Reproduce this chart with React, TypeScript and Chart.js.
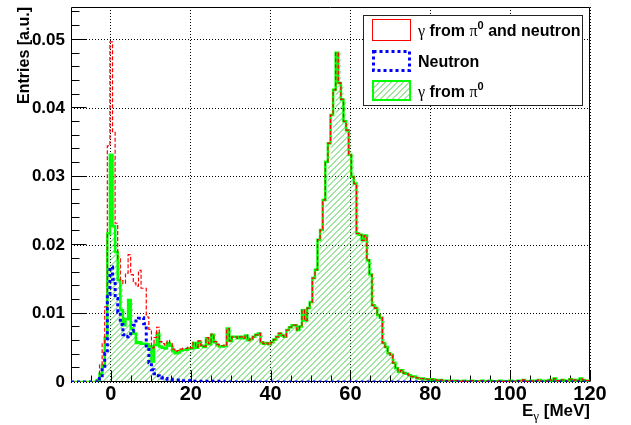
import React, { useEffect, useRef } from "react";
import { Chart, registerables } from "chart.js";

Chart.register(...registerables);

// ---- histogram binning / axis ranges ----
const X_MIN = -10;
const X_MAX = 120;
const BIN_WIDTH = 0.65; // 200 bins
const Y_MAX = 0.0548;

const xTickValues = [0, 20, 40, 60, 80, 100, 120];
const xTickLabels = ["0", "20", "40", "60", "80", "100", "120"];
const yTickValues = [0, 0.01, 0.02, 0.03, 0.04, 0.05];
const yTickLabels = ["0", "0.01", "0.02", "0.03", "0.04", "0.05"];
const X_MINOR_STEP = 5;
const Y_MINOR_STEP = 0.002;

const xAxisTitle = { main: "E", sub: "γ", unit: " [MeV]" };
const yAxisTitle = "Entries [a.u.]";
const legendNames = ["γ from π0 and neutron", "Neutron", "γ from π0"];

// ---- series: γ from π0 and neutron (red) ----
const totalValues = [
  0, 0, 0, 0, 0, 0, 0, 0, 0, 0,
  0, 0.0005, 0.0025, 0.0057, 0.011, 0.0345, 0.0497, 0.0366, 0.0232, 0.018,
  0.0148, 0.0144, 0.0159, 0.0186, 0.0157, 0.0145, 0.014, 0.0163, 0.0137, 0.0137,
  0.0095, 0.0077, 0.005, 0.0065, 0.008, 0.0059, 0.0056, 0.0054, 0.0061, 0.0057,
  0.0048, 0.0045, 0.0046, 0.0048, 0.0049, 0.0049, 0.0051, 0.005, 0.0058, 0.0051,
  0.006, 0.0054, 0.0052, 0.0065, 0.0056, 0.007, 0.0059, 0.0055, 0.0053, 0.0053,
  0.0054, 0.0078, 0.006, 0.0066, 0.0066, 0.0064, 0.0066, 0.0064, 0.0068, 0.0061,
  0.0063, 0.0066, 0.0069, 0.0071, 0.0058, 0.0056, 0.0057, 0.0055, 0.0058, 0.0062,
  0.0066, 0.0071, 0.0068, 0.0066, 0.0076, 0.008, 0.0083, 0.0083, 0.0076, 0.0081,
  0.0105, 0.009, 0.0108, 0.0117, 0.0152, 0.0164, 0.0208, 0.0222, 0.0266, 0.0322,
  0.0349, 0.039, 0.0427, 0.0481, 0.0437, 0.0413, 0.0381, 0.0368, 0.0332, 0.03,
  0.029, 0.0217, 0.0215, 0.0207, 0.0214, 0.0178, 0.0157, 0.0112, 0.0108, 0.0098,
  0.0094, 0.0057, 0.0051, 0.0042, 0.004, 0.0028, 0.002, 0.0015, 0.0017, 0.0013,
  0.0012, 0.001, 0.0008, 0.0008, 0.0006, 0.0005, 0.0005, 0.0004, 0.0004, 0.0003,
  0.0004, 0.0003, 0.0002, 0.0003, 0.0002, 0.0002, 0.0001, 0.0002, 0.0001, 0.0002,
  0.0001, 0.0001, 0.0002, 0.0001, 0.0001, 0.0002, 0.0001, 0.0001, 0.0001, 0.0002,
  0.0001, 0.0001, 0.0002, 0.0001, 0.0001, 0.0001, 0.0002, 0.0001, 0.0001, 0.0001,
  0.0002, 0.0001, 0.0001, 0.0002, 0.0001, 0.0003, 0.0001, 0.0001, 0.0002, 0.0001,
  0.0002, 0.0003, 0.0001, 0.0002, 0.0001, 0.0003, 0.0002, 0.0005, 0.0002, 0.0001,
  0.0003, 0.0002, 0.0001, 0.0004, 0.0002, 0.0003, 0.0002, 0.0005, 0.0003, 0.0002,
];

// ---- series: Neutron (blue) ----
const neutronValues = [
  0, 0, 0, 0, 0, 0, 0, 0, 0, 0,
  0, 0, 0.0005, 0.0018, 0.0042, 0.0128, 0.0168, 0.015, 0.0122, 0.0102,
  0.0084, 0.0069, 0.0066, 0.0067, 0.0074, 0.0083, 0.0089, 0.0093, 0.0094, 0.0085,
  0.005, 0.0028, 0.0018, 0.0012, 0.0009, 0.0007, 0.0006, 0.0005, 0.0004, 0.0004,
  0.0003, 0.0003, 0.0003, 0.0002, 0.0002, 0.0002, 0.0002, 0.0001, 0.0001, 0.0001,
  0.0001, 0.0001, 0.0001, 0.0001, 0.0001, 0.0001, 0.0001, 0.0001, 0.0001, 0.0001,
  0, 0, 0, 0, 0, 0, 0, 0, 0, 0,
  0, 0, 0, 0, 0, 0, 0, 0, 0, 0,
  0, 0, 0, 0, 0, 0, 0, 0, 0, 0,
  0, 0, 0, 0, 0, 0, 0, 0, 0, 0,
  0, 0, 0, 0, 0, 0, 0, 0, 0, 0,
  0, 0, 0, 0, 0, 0, 0, 0, 0, 0,
  0, 0, 0, 0, 0, 0, 0, 0, 0, 0,
  0, 0, 0, 0, 0, 0, 0, 0, 0, 0,
  0, 0, 0, 0, 0, 0, 0, 0, 0, 0,
  0, 0, 0, 0, 0, 0, 0, 0, 0, 0,
  0, 0, 0, 0, 0, 0, 0, 0, 0, 0,
  0, 0, 0, 0, 0, 0, 0, 0, 0, 0,
  0, 0, 0, 0, 0, 0, 0, 0, 0, 0,
  0, 0, 0, 0, 0, 0, 0, 0, 0, 0,
];

// ---- series: γ from π0 (green, hatched) ----
const pi0Values = [
  0, 0, 0, 0, 0, 0, 0, 0, 0, 0,
  0, 0.0003, 0.0012, 0.0025, 0.0065, 0.0217, 0.0332, 0.0228, 0.019, 0.0149,
  0.0105, 0.0083, 0.0092, 0.012, 0.0078, 0.0071, 0.0057, 0.0058, 0.0056, 0.0056,
  0.0055, 0.0052, 0.003, 0.0054, 0.0071, 0.0052, 0.005, 0.0049, 0.0057, 0.0053,
  0.0045, 0.0042, 0.0043, 0.0046, 0.0047, 0.0047, 0.0049, 0.0049, 0.0057, 0.005,
  0.0059, 0.0053, 0.0051, 0.0064, 0.0055, 0.0069, 0.0058, 0.0054, 0.0052, 0.0052,
  0.0053, 0.0078, 0.006, 0.0066, 0.0066, 0.0064, 0.0066, 0.0064, 0.0068, 0.0061,
  0.0063, 0.0066, 0.0069, 0.0071, 0.0058, 0.0056, 0.0057, 0.0055, 0.0058, 0.0062,
  0.0066, 0.0071, 0.0068, 0.0066, 0.0076, 0.008, 0.0083, 0.0083, 0.0076, 0.0081,
  0.0105, 0.009, 0.0108, 0.0117, 0.0152, 0.0164, 0.0208, 0.0222, 0.0266, 0.0322,
  0.0349, 0.039, 0.0427, 0.0481, 0.0437, 0.0413, 0.0381, 0.0368, 0.0332, 0.03,
  0.029, 0.0217, 0.0215, 0.0207, 0.0214, 0.0178, 0.0157, 0.0112, 0.0108, 0.0098,
  0.0094, 0.0057, 0.0051, 0.0042, 0.004, 0.0028, 0.002, 0.0015, 0.0017, 0.0013,
  0.0012, 0.001, 0.0008, 0.0008, 0.0006, 0.0005, 0.0005, 0.0004, 0.0004, 0.0003,
  0.0004, 0.0003, 0.0002, 0.0003, 0.0002, 0.0002, 0.0001, 0.0002, 0.0001, 0.0002,
  0.0001, 0.0001, 0.0002, 0.0001, 0.0001, 0.0002, 0.0001, 0.0001, 0.0001, 0.0002,
  0.0001, 0.0001, 0.0002, 0.0001, 0.0001, 0.0001, 0.0002, 0.0001, 0.0001, 0.0001,
  0.0002, 0.0001, 0.0001, 0.0002, 0.0001, 0.0003, 0.0001, 0.0001, 0.0002, 0.0001,
  0.0002, 0.0003, 0.0001, 0.0002, 0.0001, 0.0003, 0.0002, 0.0005, 0.0002, 0.0001,
  0.0003, 0.0002, 0.0001, 0.0004, 0.0002, 0.0003, 0.0002, 0.0005, 0.0003, 0.0002,
];

const RED = "#ff0000";
const BLUE = "#0000ff";
const GREEN = "#00ff00";
const HATCH = "rgb(70, 205, 70)";
const HATCH_SPACING = 6;
const SANS = "'Liberation Sans', Arial, Helvetica, sans-serif";
const SERIF = "'Liberation Serif', 'Times New Roman', serif";
const HATCHED_INDEX = 2;

function toPoints(values: number[]) {
  const pts = values.map((v, i) => ({ x: X_MIN + i * BIN_WIDTH, y: v }));
  pts.push({ x: X_MAX, y: values[values.length - 1] });
  return pts;
}

// diagonal "/" hatch bands (filled thin parallelograms) in the current clip
function fillHatch(ctx: CanvasRenderingContext2D, x0: number, y0: number, x1: number, y1: number) {
  const h = y1 - y0;
  ctx.globalCompositeOperation = "source-over";
  ctx.globalAlpha = 1;
  ctx.fillStyle = HATCH;
  ctx.beginPath();
  const w = 1.0;
  for (let k = Math.floor((x0 - h) / HATCH_SPACING) * HATCH_SPACING; k <= x1; k += HATCH_SPACING) {
    ctx.moveTo(k, y1);
    ctx.lineTo(k + w, y1);
    ctx.lineTo(k + w + h, y0);
    ctx.lineTo(k + h, y0);
    ctx.closePath();
  }
  ctx.fill();
}

type Run = { t: string; font: string; dy?: number };
function drawRuns(ctx: CanvasRenderingContext2D, runs: Run[], x: number, y: number, align: "left" | "right") {
  let w = 0;
  runs.forEach((r) => {
    ctx.font = r.font;
    w += ctx.measureText(r.t).width;
  });
  let cx = align === "right" ? x - w : x;
  ctx.textAlign = "left";
  ctx.textBaseline = "alphabetic";
  runs.forEach((r) => {
    ctx.font = r.font;
    ctx.fillText(r.t, cx, y + (r.dy || 0));
    cx += ctx.measureText(r.t).width;
  });
}

function labelRuns(name: string): Run[] {
  const B = `bold 16px ${SANS}`;
  const G = `16px ${SERIF}`;
  const SUP = `bold 11px ${SANS}`;
  const runs: Run[] = [];
  let buf = "";
  for (let i = 0; i < name.length; i++) {
    const ch = name[i];
    if (ch === "γ" || ch === "π") {
      if (buf) runs.push({ t: buf, font: B });
      buf = "";
      runs.push({ t: ch, font: G });
      if (ch === "π" && name[i + 1] === "0") {
        runs.push({ t: "0", font: SUP, dy: -7 });
        i++;
      }
    } else buf += ch;
  }
  if (buf) runs.push({ t: buf, font: B });
  return runs;
}

const rootAxesPlugin = {
  id: "rootAxes",
  beforeDatasetsDraw(chart: any) {
    const { ctx, chartArea: a, scales } = chart;
    const xs = scales.x;
    const ys = scales.y;

    // hatch under the γ-from-π0 histogram, outlined from the library's points
    const pts = chart.getDatasetMeta(HATCHED_INDEX).data;
    if (pts && pts.length) {
      const base = ys.getPixelForValue(0);
      ctx.save();
      ctx.beginPath();
      ctx.rect(a.left, a.top, a.right - a.left, a.bottom - a.top);
      ctx.clip();
      ctx.beginPath();
      ctx.moveTo(pts[0].x, base);
      ctx.lineTo(pts[0].x, pts[0].y);
      for (let i = 1; i < pts.length; i++) {
        ctx.lineTo(pts[i].x, pts[i - 1].y);
        ctx.lineTo(pts[i].x, pts[i].y);
      }
      ctx.lineTo(pts[pts.length - 1].x, base);
      ctx.closePath();
      ctx.clip();
      fillHatch(ctx, a.left, a.top, a.right, a.bottom);
      ctx.restore();
    }

    const L = Math.round(a.left) + 0.5;
    const R = Math.round(a.right) - 0.5;
    const T = Math.round(a.top) + 0.5;
    const B = Math.round(a.bottom) - 0.5;
    ctx.save();
    ctx.strokeStyle = "#000";
    ctx.lineWidth = 1;
    ctx.setLineDash([]);
    ctx.beginPath();
    ctx.rect(L, T, R - L, B - T);
    const nY = Math.round(Y_MAX / Y_MINOR_STEP);
    for (let k = 0; k <= nY; k++) {
      const py = Math.round(ys.getPixelForValue(k * Y_MINOR_STEP)) - 0.5;
      const major = k % 5 === 0;
      ctx.moveTo(L, py);
      ctx.lineTo(L + (major ? 15 : 8), py);
    }
    const nX = Math.round((X_MAX - X_MIN) / X_MINOR_STEP);
    for (let k = 0; k <= nX; k++) {
      const v = X_MIN + k * X_MINOR_STEP;
      const px = Math.round(xs.getPixelForValue(v)) + 0.5;
      const major = xTickValues.indexOf(v) >= 0;
      ctx.moveTo(px, B);
      ctx.lineTo(px, B - (major ? 11 : 6));
    }
    ctx.stroke();
    ctx.restore();
  },
};

const overlayPlugin = {
  id: "rootOverlay",
  afterDraw(chart: any) {
    const { ctx, chartArea: a } = chart;
    ctx.save();
    ctx.fillStyle = "#000";
    // x axis title
    drawRuns(
      ctx,
      [
        { t: xAxisTitle.main, font: `bold 17px ${SANS}` },
        { t: xAxisTitle.sub, font: `13px ${SERIF}`, dy: 4 },
        { t: xAxisTitle.unit, font: `bold 17px ${SANS}` },
      ],
      a.right,
      416,
      "right"
    );
    // y axis title
    ctx.save();
    ctx.translate(29, a.top);
    ctx.rotate(-Math.PI / 2);
    ctx.font = `bold 16px ${SANS}`;
    ctx.textAlign = "right";
    ctx.textBaseline = "alphabetic";
    ctx.fillText(yAxisTitle, 0, 0);
    ctx.restore();

    // legend box
    const lx = 363, ly = 15, lw = 220, lh = 91;
    ctx.fillStyle = "#fff";
    ctx.fillRect(lx, ly, lw, lh);
    ctx.strokeStyle = "#222";
    ctx.lineWidth = 1;
    ctx.setLineDash([]);
    ctx.strokeRect(lx + 0.5, ly + 0.5, lw - 1, lh - 1);

    const rows = [30, 60.5, 90.5];
    // red entry
    ctx.strokeStyle = RED;
    ctx.lineWidth = 1;
    ctx.strokeRect(372.5, 19.5, 38, 21);
    // blue entry
    ctx.strokeStyle = BLUE;
    ctx.lineWidth = 3;
    ctx.setLineDash([3, 3]);
    ctx.strokeRect(373.5, 51.5, 36, 19);
    ctx.setLineDash([]);
    // green entry with hatch
    ctx.save();
    ctx.beginPath();
    ctx.rect(372, 80, 39, 21);
    ctx.clip();
    fillHatch(ctx, 372, 80, 411, 101);
    ctx.restore();
    ctx.strokeStyle = GREEN;
    ctx.lineWidth = 2;
    ctx.strokeRect(373, 81, 37, 19);

    ctx.fillStyle = "#000";
    legendNames.forEach((name, i) => {
      drawRuns(ctx, labelRuns(name), 418, rows[i] + 6, "left");
    });
    ctx.restore();
  },
};

export default function App() {
  const canvasRef = useRef<HTMLCanvasElement>(null);

  useEffect(() => {
    const canvas = canvasRef.current;
    if (!canvas) return;
    const tickFontY = { family: SANS, weight: "bold" as const, size: 17 };
    const tickFontX = { family: SANS, weight: "bold" as const, size: 20 };
    const chart = new Chart(canvas, {
      type: "line",
      data: {
        datasets: [
          {
            label: legendNames[1],
            data: toPoints(neutronValues),
            borderColor: BLUE,
            backgroundColor: "rgba(0,0,0,0)",
            borderWidth: 3,
            borderDash: [3, 3],
            fill: false,
            stepped: "after",
            pointRadius: 0,
            order: 0,
          },
          {
            label: legendNames[0],
            data: toPoints(totalValues),
            borderColor: RED,
            backgroundColor: "rgba(0,0,0,0)",
            borderWidth: 1.2,
            borderDash: [4, 2],
            fill: false,
            stepped: "after",
            pointRadius: 0,
            order: 1,
          },
          {
            label: legendNames[2],
            data: toPoints(pi0Values),
            borderColor: GREEN,
            backgroundColor: "rgba(0,0,0,0)",
            borderWidth: 2.5,
            fill: false,
            stepped: "after",
            pointRadius: 0,
            order: 2,
          },
        ],
      },
      options: {
        animation: false,
        responsive: false,
        devicePixelRatio: 1,
        events: [],
        layout: { padding: { left: 0, top: 7, right: 41, bottom: 0 } },
        plugins: { legend: { display: false }, tooltip: { enabled: false } },
        scales: {
          x: {
            type: "linear",
            min: X_MIN,
            max: X_MAX,
            afterBuildTicks: (s: any) => {
              s.ticks = xTickValues.map((v) => ({ value: v }));
            },
            afterFit: (s: any) => {
              s.height = 43;
              s.paddingLeft = 0;
              s.paddingRight = 0;
            },
            ticks: {
              font: tickFontX,
              color: "#000",
              padding: 0,
              maxRotation: 0,
              autoSkip: false,
              callback: (_v: any, i: number) => xTickLabels[i],
            },
            grid: { display: true, color: "#000", lineWidth: 1, drawTicks: false },
            border: { display: false, dash: [1, 2] },
          },
          y: {
            type: "linear",
            min: 0,
            max: Y_MAX,
            afterBuildTicks: (s: any) => {
              s.ticks = yTickValues.map((v) => ({ value: v }));
            },
            afterFit: (s: any) => {
              s.width = 71;
              s.paddingTop = 0;
              s.paddingBottom = 0;
            },
            ticks: {
              font: tickFontY,
              color: "#000",
              padding: 6,
              autoSkip: false,
              callback: (_v: any, i: number) => yTickLabels[i],
            },
            grid: { display: true, color: "#000", lineWidth: 1, drawTicks: false },
            border: { display: false, dash: [1, 2] },
          },
        },
      },
      plugins: [rootAxesPlugin, overlayPlugin],
    } as any);
    return () => chart.destroy();
  }, []);

  return (
    <div style={{ position: "absolute", left: 0, top: 0, width: 631, height: 425, background: "#fff" }}>
      <canvas ref={canvasRef} width={631} height={425} style={{ display: "block", width: 631, height: 425 }} />
    </div>
  );
}
